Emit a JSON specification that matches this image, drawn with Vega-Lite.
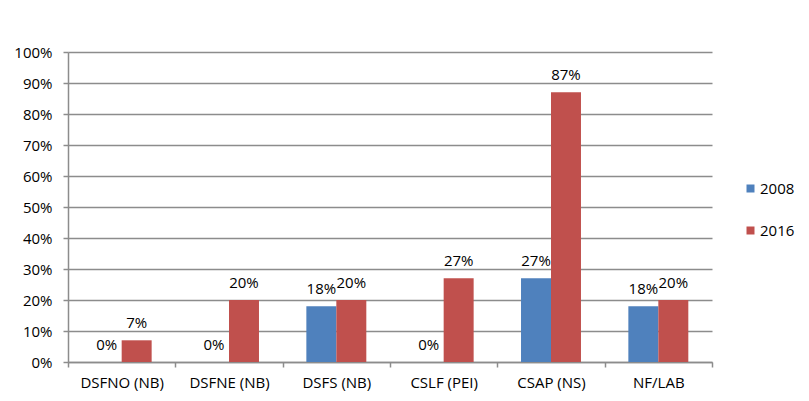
{
  "$schema": "https://vega.github.io/schema/vega-lite/v6.json",
  "width": 644,
  "height": 310,
  "autosize": {"type": "none"},
  "padding": {"left": 68, "top": 52, "right": 97, "bottom": 39},
  "background": "white",
  "config": {
    "view": {"stroke": null},
    "font": "Open Sans"
  },
  "data": {
    "values": [
      {"cat": "DSFNO (NB)", "year": "2008", "v": 0},
      {"cat": "DSFNO (NB)", "year": "2016", "v": 0.07},
      {"cat": "DSFNE (NB)", "year": "2008", "v": 0},
      {"cat": "DSFNE (NB)", "year": "2016", "v": 0.20},
      {"cat": "DSFS (NB)", "year": "2008", "v": 0.18},
      {"cat": "DSFS (NB)", "year": "2016", "v": 0.20},
      {"cat": "CSLF (PEI)", "year": "2008", "v": 0},
      {"cat": "CSLF (PEI)", "year": "2016", "v": 0.27},
      {"cat": "CSAP (NS)", "year": "2008", "v": 0.27},
      {"cat": "CSAP (NS)", "year": "2016", "v": 0.87},
      {"cat": "NF/LAB", "year": "2008", "v": 0.18},
      {"cat": "NF/LAB", "year": "2016", "v": 0.20}
    ]
  },
  "encoding": {
    "x": {
      "field": "cat", "type": "nominal", "sort": null, "title": null,
      "scale": {"padding": 0},
      "axis": {
        "labelAngle": 0, "labelFontSize": 15, "labelColor": "#000000",
        "labelPadding": 8, "tickBand": "extent", "tickSize": 5,
        "domainColor": "#8c8c8c", "tickColor": "#8c8c8c", "domainWidth": 1.5, "tickWidth": 1.5
      }
    },
    "xOffset": {"field": "year", "type": "nominal", "scale": {"paddingOuter": 0.79, "paddingInner": 0}},
    "y": {
      "field": "v", "type": "quantitative", "title": null,
      "scale": {"domain": [0, 1]},
      "axis": {
        "format": ".0%", "values": [0, 0.1, 0.2, 0.3, 0.4, 0.5, 0.6, 0.7, 0.8, 0.9, 1],
        "labelOverlap": false,
        "labelFontSize": 15, "labelColor": "#000000", "labelPadding": 11, "tickSize": 5,
        "domainColor": "#8c8c8c", "tickColor": "#8c8c8c", "gridColor": "#8c8c8c",
        "domainWidth": 1.5, "tickWidth": 1.5, "gridWidth": 1.5
      }
    }
  },
  "layer": [
    {
      "mark": {"type": "bar"},
      "encoding": {
        "color": {
          "field": "year", "type": "nominal", "title": null,
          "scale": {"domain": ["2008", "2016"], "range": ["#4F81BD", "#C0504D"]},
          "legend": {
            "orient": "none", "legendX": 675, "legendY": 129,
            "symbolType": "square", "symbolSize": 64, "symbolStrokeWidth": 0,
            "labelFontSize": 15, "labelColor": "#000000", "rowPadding": 26, "labelOffset": 2
          }
        }
      }
    },
    {
      "mark": {"type": "text", "baseline": "bottom", "dy": -9, "fontSize": 15, "color": "#000000"},
      "encoding": {
        "text": {"field": "v", "type": "quantitative", "format": ".0%"}
      }
    }
  ]
}
